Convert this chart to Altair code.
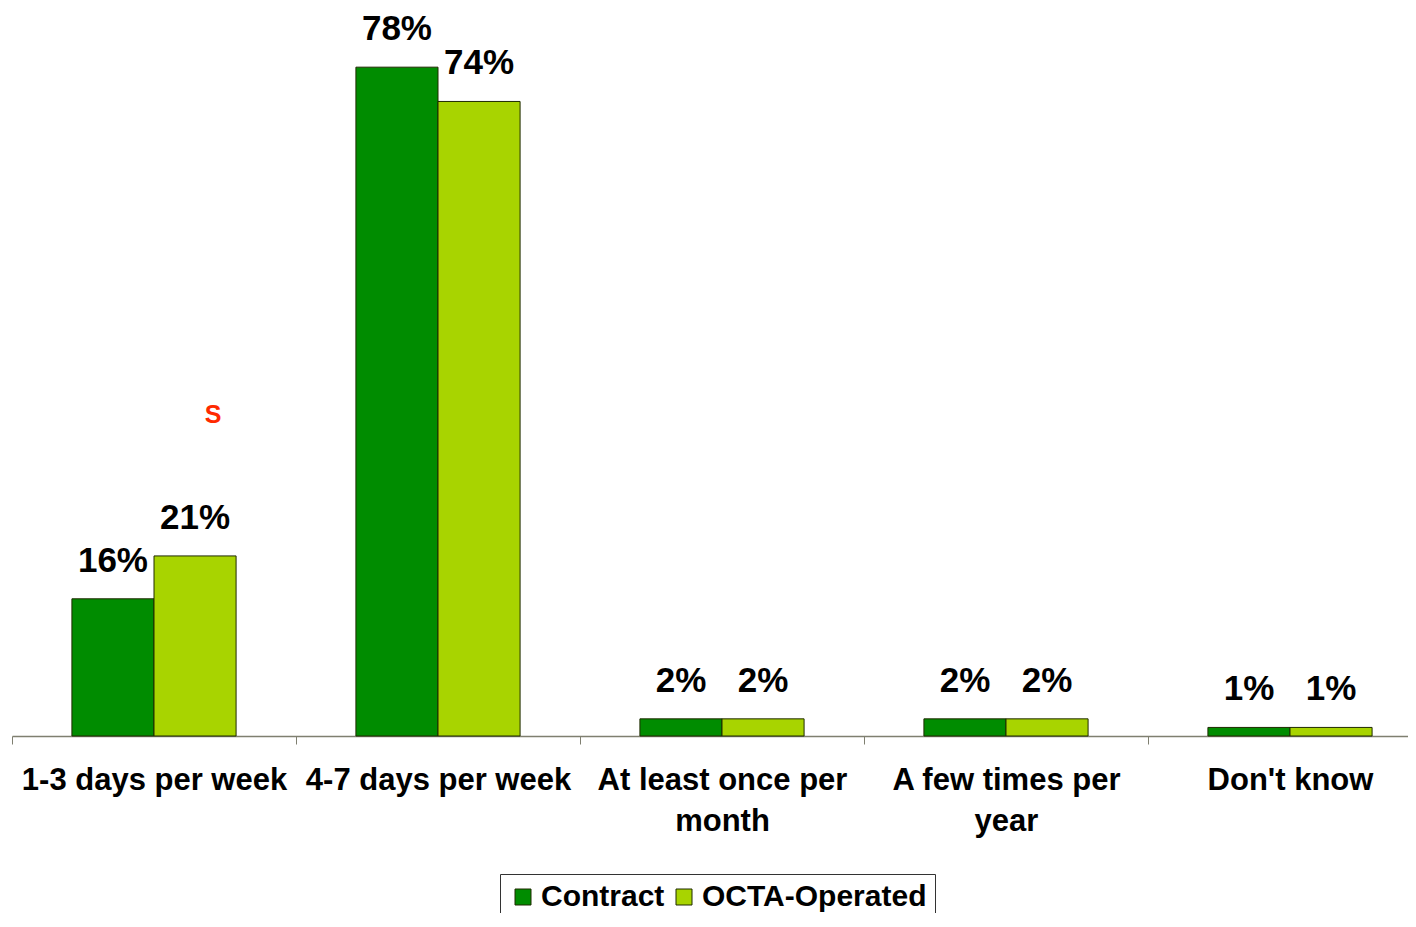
import altair as alt
import pandas as pd

categories = ["1-3 days per week", "4-7 days per week", "At least once per month",
              "A few times per year", "Don't know"]
wrapped = {
    "At least once per month": ["At least once per", "month"],
    "A few times per year": ["A few times per", "year"],
}
series = ["Contract", "OCTA-Operated"]
contract = [16, 78, 2, 2, 1]
octa = [21, 74, 2, 2, 1]
colors = ["#008C00", "#A8D400"]

# significance marker
ann_category = ["1-3 days per week"]
ann_series = ["OCTA-Operated"]
ann_value = [36.5]
ann_text = ["S"]

rows = []
for c, a, b in zip(categories, contract, octa):
    rows.append({"category": c, "series": series[0], "value": a, "label": f"{a}%"})
    rows.append({"category": c, "series": series[1], "value": b, "label": f"{b}%"})
df = pd.DataFrame(rows)
ann = pd.DataFrame({"category": ann_category, "series": ann_series,
                    "value": ann_value, "text": ann_text})

label_expr = ""
for k, v in wrapped.items():
    label_expr += f"datum.label == \"{k}\" ? {v} : "
label_expr += "datum.label"

FONT = "Liberation Sans"

x_enc = alt.X("category:N", sort=categories, title=None,
              scale=alt.Scale(paddingInner=0, paddingOuter=0, range=[0, 1420]),
              axis=alt.Axis(labelAngle=0, labelFont=FONT, labelFontSize=31,
                            labelFontWeight="bold", labelColor="black",
                            labelLineHeight=41, labelPadding=21,
                            labelExpr=label_expr, tickBand="extent",
                            tickSize=8, tickColor="#7f7f70", domainColor="#7f7f70",
                            domainWidth=1.5, labelLimit=400))
xo_enc = alt.XOffset("series:N", sort=series,
                     scale=alt.Scale(paddingInner=0, paddingOuter=0.73))
y_enc = alt.Y("value:Q", scale=alt.Scale(domain=[0, 84.9], nice=False), axis=None)

base = alt.Chart(df).encode(x=x_enc, xOffset=xo_enc, y=y_enc)

bars = base.mark_bar(stroke="#1f2a00", strokeWidth=1).encode(
    color=alt.Color("series:N", sort=series,
                    scale=alt.Scale(domain=series, range=colors),
                    legend=alt.Legend(title=None, orient="none", legendX=488, legendY=866,
                                      direction="horizontal", strokeColor="#333333",
                                      fillColor="white", padding=8,
                                      symbolType="square", symbolSize=256,
                                      symbolStrokeColor="#1f2a00", symbolStrokeWidth=1,
                                      symbolOpacity=1,
                                      labelFont=FONT, labelFontSize=30,
                                      labelFontWeight="bold", labelColor="black",
                                      columnPadding=4, labelOffset=3,
                                      labelLimit=400))
)

labels = base.mark_text(dy=-27, baseline="alphabetic", fontSize=35, font=FONT,
                        fontWeight="bold", color="black").encode(text="label:N")

marker = alt.Chart(ann).mark_text(dx=18, baseline="alphabetic", fontSize=25, font=FONT,
                                  fontWeight="bold", color="#FF2A00").encode(
    x=alt.X("category:N", sort=categories), xOffset=alt.XOffset("series:N", sort=series),
    y=alt.Y("value:Q"), text="text:N")

chart = alt.layer(bars, labels, marker).properties(
    width=1396, height=728,
    autosize=alt.AutoSizeParams(type="none"),
    padding={"left": 4, "top": 0, "right": 0, "bottom": 177},
).configure_view(stroke=None)

chart.save("out.html", embed_options={"renderer": "svg", "actions": False})
